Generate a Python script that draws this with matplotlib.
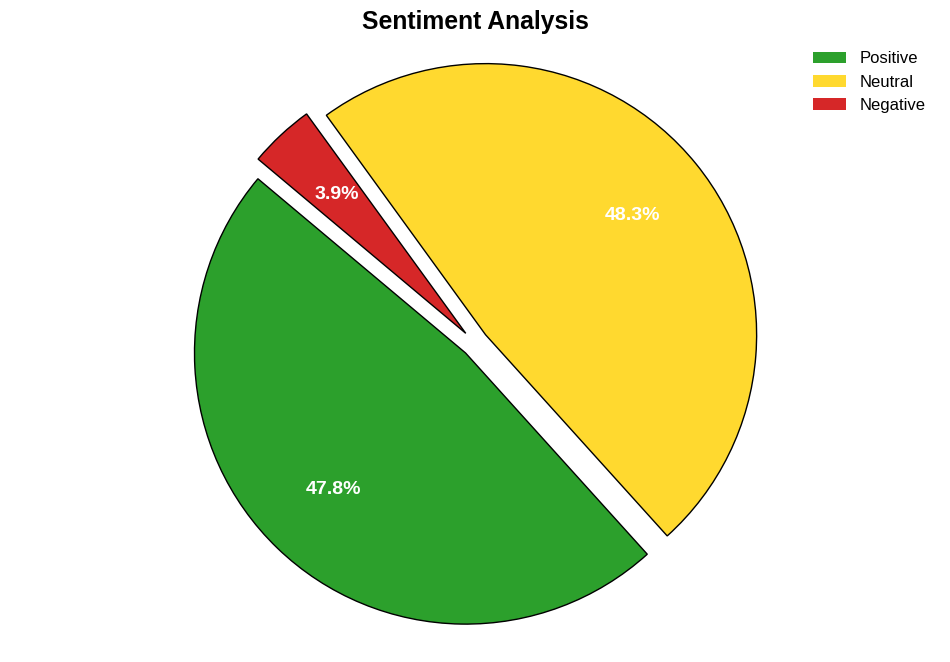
import matplotlib.pyplot as plt
from matplotlib.patches import Patch

plt.rcParams['font.family'] = ['Liberation Sans', 'DejaVu Sans']

labels = ["Positive", "Neutral", "Negative"]
shares = [47.8, 48.3, 3.9]
colors = ["#2ca02c", "#ffd92f", "#d62728"]
explode = [0.05, 0.05, 0.05]

fig = plt.figure(figsize=(9.5, 6.62), dpi=100)
ax = fig.add_axes([0.0, -0.005, 1.0, 0.973])

wedges, texts, autotexts = ax.pie(
    shares,
    colors=colors,
    explode=explode,
    startangle=140,
    autopct="%1.1f%%",
    pctdistance=0.7,
    wedgeprops={"edgecolor": "black", "linewidth": 1},
    textprops={"color": "white", "fontsize": 14, "fontweight": "bold"},
)
ax.set_aspect("equal", adjustable="datalim")
ax.set_ylim(-1.188, 1.188)
ax.set_xlim(-1.188, 1.188)

fig.text(0.5, 0.967, "Sentiment Analysis", ha="center", va="center",
         fontsize=17.8, fontweight="bold")

# legend handles without the black wedge edge
handles = [Patch(facecolor=c, edgecolor="none") for c in colors]
fig.legend(handles, labels, loc="upper right", bbox_to_anchor=(0.981, 0.9325),
           borderaxespad=0, frameon=False, fontsize=12)

plt.savefig("out.png")
